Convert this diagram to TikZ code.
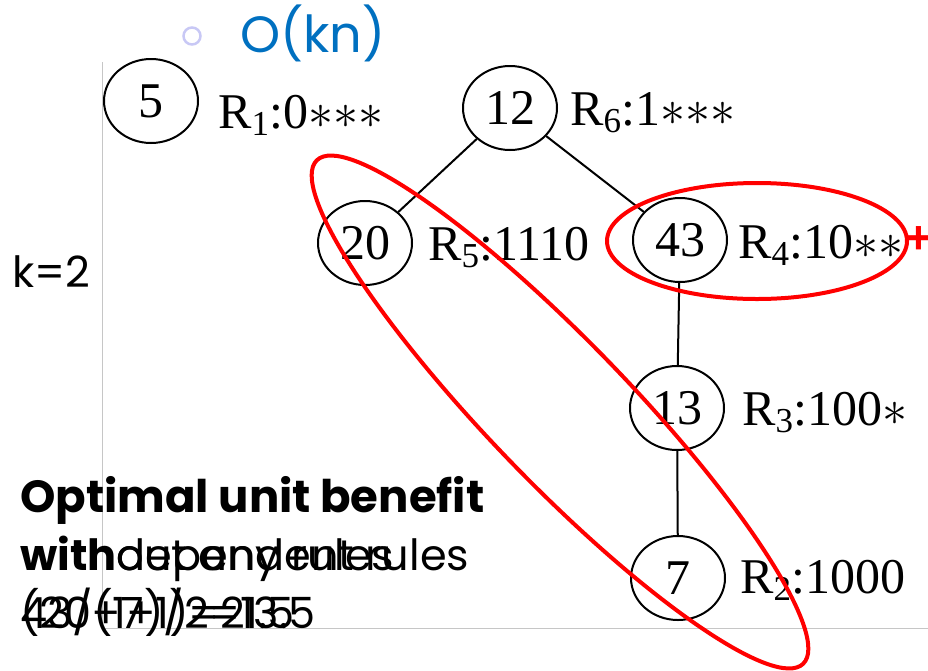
\RequirePackage{fix-cm}
\documentclass[tikz,border=0pt]{standalone}
\usepackage{fontspec}
\setmainfont{Liberation Serif}
\newfontfamily\comic{Poppins}
\newfontfamily\lsans{Liberation Sans}
\usetikzlibrary{shapes.geometric}
\definecolor{okblue}{RGB}{0,112,192}
\definecolor{lav}{RGB}{200,200,245}
\tikzset{
  rnode/.style={ellipse, draw, line width=2pt, minimum width=94pt, minimum height=84pt, inner sep=0pt, font=\fontsize{50}{56}\selectfont},
  rlabel/.style={anchor=base west, inner sep=0pt, font=\fontsize{50}{56}\selectfont},
  edge/.style={line width=2pt},
  hl/.style={red, line width=4pt},
  axis/.style={gray!45, line width=1pt}
}
\begin{document}
\begin{tikzpicture}[x=1pt,y=-1pt]
\useasboundingbox (0,0) rectangle (928,670);
% axes
\draw[axis] (102,62) -- (102,628) -- (928,628);
% header
\draw[lav, line width=2.5pt] (192,36) circle (8.5pt);
\node[anchor=west, text=okblue, font=\comic\fontsize{51}{56}\selectfont, inner sep=0pt] (okn) at (240,33) {O(kn)};
% nodes
\node[rnode] (n5) at (151,101) {5};
\node[rnode] (n12) at (510,108) {12};
\node[rnode] (n20) at (365,243) {20};
\node[rnode] (n43) at (680,240) {43};
\node[rnode] (n13) at (677,408) {13};
\node[rnode] (n7) at (678,578) {7};
% labels
\node[rlabel] (l1) at (218,128) {R\textsubscript{1}:0\ensuremath{{\ast}{\ast}{\ast}}};
\node[rlabel] (l6) at (570,125) {R\textsubscript{6}:1\ensuremath{{\ast}{\ast}{\ast}}};
\node[rlabel] (l5) at (428,260) {R\textsubscript{5}:1110};
\node[rlabel] (l4) at (738,258) {R\textsubscript{4}:10\ensuremath{{\ast}{\ast}}};
\node[rlabel] (l3) at (742,425) {R\textsubscript{3}:100\ensuremath{{\ast}}};
\node[rlabel] (l2) at (740,593) {R\textsubscript{2}:1000};
\node[text=red, inner sep=0pt, font=\fontsize{46}{50}\selectfont\lsans\bfseries] (plus) at (919,240) {+};
% edges
\draw[edge] (n12) -- (n20);
\draw[edge] (n12) -- (n43);
\draw[edge] (n43) -- (n13);
\draw[edge] (n13) -- (n7);
% left texts
\node[anchor=west, inner sep=0pt, font=\comic\fontsize{43}{48}\selectfont] (k) at (12,272) {k=2};
\node[anchor=base west, inner sep=0pt, font=\comic\bfseries\fontsize{45}{50}\selectfont] (t1) at (20,512) {Optimal unit benefit};
\node[anchor=base west, inner sep=0pt, font=\comic\fontsize{43}{48}\selectfont] (t2) at (20,570) {\bfseries with\mdseries\rlap{out any rules}dependent rules};
\node[anchor=base west, inner sep=0pt, font=\comic\fontsize{43}{48}\selectfont] (t3) at (20,628) {\rlap{(20+7)/2=13.5}43/(1+1)=21.5};
% highlights
\draw[hl] (757,241) ellipse [x radius=150pt, y radius=58pt];
\draw[hl, rotate around={-46:(560,412)}] (560,412) ellipse [x radius=350pt, y radius=70pt];
\end{tikzpicture}
\end{document}
